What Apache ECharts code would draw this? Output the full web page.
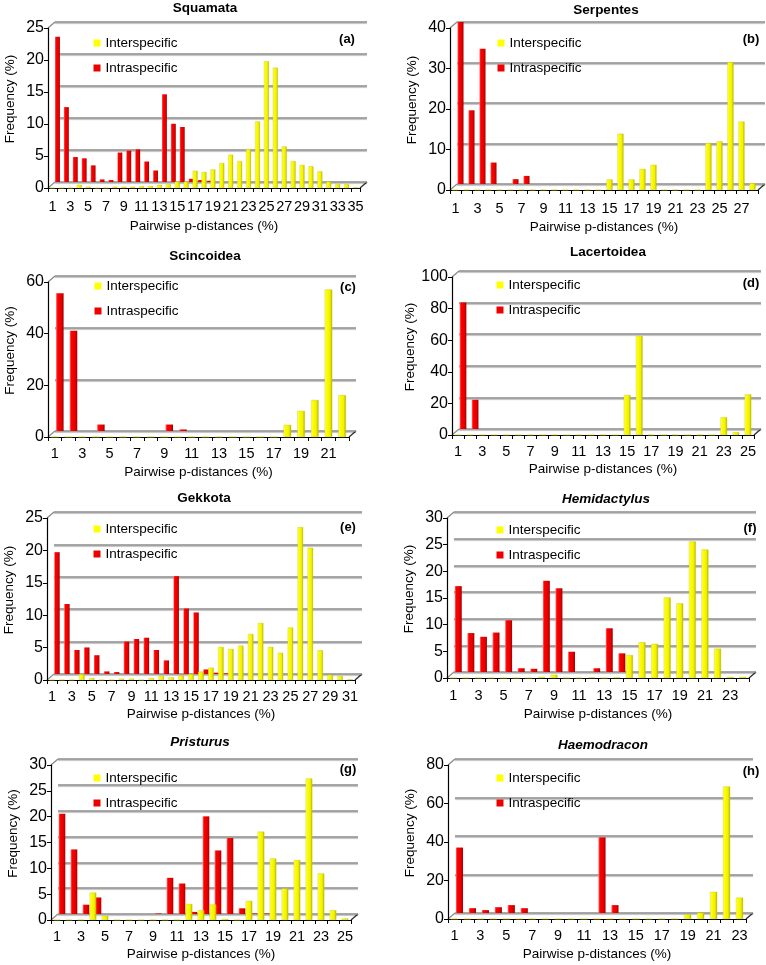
<!DOCTYPE html>
<html><head><meta charset="utf-8">
<script src="https://cdn.jsdelivr.net/npm/echarts@6/dist/echarts.min.js"></script>
<style>html,body{margin:0;padding:0;background:#fff}#c{width:766px;height:965px}</style>
</head><body><div id="c"></div>
<script>
// ---------- data ----------
const catsA = [1,2,3,4,5,6,7,8,9,10,11,12,13,14,15,16,17,18,19,20,21,22,23,24,25,26,27,28,29,30,31,32,33,34,35];
const interA = [0,0,0,0.5,0.2,0,0,0.2,0.2,0.2, 0.3,0.3,0.5,0.6,1.0,1.0,2.7,2.5,2.9,3.9, 5.2,4.2,6.1,10.4,19.8,18.8,6.5,4.2,3.6,3.4, 2.6,1.0,0.6,0.6,0.1];
const intraA = [22.7,11.7,3.9,3.7,2.6,0.4,0.3,4.6,4.9,5.1, 3.2,1.8,13.7,9.1,8.6,0.5,0.3,0.2,0,0, 0,0,0,0,0,0,0,0,0,0, 0,0,0,0,0];

const catsB = [1,2,3,4,5,6,7,8,9,10,11,12,13,14,15,16,17,18,19,20,21,22,23,24,25,26,27,28];
const interB = [0,0,0,0,0,0,0,0,0,0, 0,0,0,0,2.6,13.9,2.6,5.2,6.2,0, 0,0,0,11.6,12.0,31.6,16.9,1.7];
const intraB = [40.1,18.2,33.4,5.3,0,1.2,2.0,0,0,0, 0,0,0,0,0,0,0,0,0,0, 0,0,0,0,0,0,0,0];

const catsC = [1,2,3,4,5,6,7,8,9,10,11,12,13,14,15,16,17,18,19,20,21,22];
const interC = [0,0,0,0,0,0,0,0,0,0, 0,0,0,0,0,0,0,4.7,10.1,14.3, 57.1,16.2];
const intraC = [53.3,38.8,0,2.5,0,0,0,0,2.5,0.6, 0,0,0,0,0,0,0,0,0,0, 0,0];

const catsD = [1,2,3,4,5,6,7,8,9,10,11,12,13,14,15,16,17,18,19,20,21,22,23,24,25];
const interD = [0,0,0,0,0,0,0,0,0,0, 0,0,0,0,25.3,62.7,0,0,0,0, 0,0,11.2,1.7,25.7];
const intraD = [80.1,18.5,0,0,0,0,0,0,0,0, 0,0,0,0,0,0,0,0,0,0, 0,0,0,0,0];

const catsE = [1,2,3,4,5,6,7,8,9,10,11,12,13,14,15,16,17,18,19,20,21,22,23,24,25,26,27,28,29,30,31];
const interE = [0,0,0,0.9,0.3,0,0,0.2,0.2,0, 0.3,0.6,0.4,0.7,0.9,1.3,1.9,5.1,4.8,5.3, 7.1,8.8,5.1,4.2,8.1,23.6,20.4,4.6,0.8,0.6, 0.1];
const intraE = [18.8,10.8,3.7,4.1,2.9,0.4,0.3,5.0,5.4,5.6, 3.7,2.1,15.1,10.1,9.5,0.7,0.2,0.1,0,0, 0,0,0,0,0,0,0,0,0,0, 0];

const catsF = [1,2,3,4,5,6,7,8,9,10,11,12,13,14,15,16,17,18,19,20,21,22,23,24];
const interF = [0,0,0,0,0,0,0,0.2,0.6,0, 0,0.1,0,0.1,4.3,6.7,6.4,15.1,14.0,25.6, 24.1,5.5,0.2,0.2];
const intraF = [16.1,7.3,6.6,7.4,9.7,0.7,0.6,17.1,15.7,3.8, 0,0.7,8.2,3.5,0,0,0,0,0,0, 0,0,0,0];

const catsG = [1,2,3,4,5,6,7,8,9,10,11,12,13,14,15,16,17,18,19,20,21,22,23,24,25];
const interG = [0,0,0,5.3,0.8,0,0,0,0,0, 0,3.1,1.9,3.0,0.2,0,3.7,17.1,11.9,6.1, 11.6,27.4,9.0,1.9,0.3];
const intraG = [19.4,12.5,1.8,3.2,0,0,0,0,0.1,7.0, 5.9,0.4,18.9,12.3,14.7,1.1,0.1,0.1,0,0, 0,0,0,0,0];

const catsH = [1,2,3,4,5,6,7,8,9,10,11,12,13,14,15,16,17,18,19,20,21,22,23];
const interH = [0,0,0,0,0,0,0,0,0,0, 0,0,0,0,0,0,0,0,2.3,3.3, 14.1,68.8,11.1];
const intraH = [34,2.5,1.5,3.0,4.1,2.5,0,0,0,0, 0,39.3,4.1,0,0,0,0,0,0,0, 0,0,0];

const yMaxes = {a:25,b:40,c:60,d:100,e:25,f:30,g:30,h:80};
const yIntervals = {a:5,b:10,c:20,d:20,e:5,f:5,g:5,h:20};
const titles = {a:'Squamata',b:'Serpentes',c:'Scincoidea',d:'Lacertoidea',e:'Gekkota',f:'Hemidactylus',g:'Pristurus',h:'Haemodracon'};
const xName = 'Pairwise p-distances (%)';
const yName = 'Frequency (%)';
const seriesNames = ['Interspecific','Intraspecific'];

// ---------- layout (positions / styles) ----------
const FONT = '"Liberation Sans", Arial, Helvetica, sans-serif';
const panels = [
 {k:'a', cats:catsA, inter:interA, intra:intraA, italic:false, left:48,  top:28,  width:312, y0:188, titleX:205, titleY:8,   lg:[88.5,30],  tag:[347,39],  xGap:31, lblM:11},
 {k:'b', cats:catsB, inter:interB, intra:intraB, italic:false, left:450, top:28,  width:308, y0:190, titleX:606, titleY:10,  lg:[492.5,30], tag:[751,39],  xGap:30, lblM:11},
 {k:'c', cats:catsC, inter:interC, intra:intraC, italic:false, left:48,  top:282, width:301, y0:437, titleX:205, titleY:256, lg:[89.5,273], tag:[348,287], xGap:28, lblM:9},
 {k:'d', cats:catsD, inter:interD, intra:intraD, italic:false, left:452, top:277, width:302, y0:435, titleX:608, titleY:252, lg:[491.5,272],tag:[751,283], xGap:27, lblM:9},
 {k:'e', cats:catsE, inter:interE, intra:intraE, italic:false, left:47,  top:518, width:308, y0:680, titleX:204, titleY:498, lg:[88.5,516], tag:[348,527], xGap:27, lblM:9},
 {k:'f', cats:catsF, inter:interF, intra:intraF, italic:true,  left:447, top:518, width:302, y0:678, titleX:606, titleY:499, lg:[491.5,517],tag:[750,528], xGap:29, lblM:10},
 {k:'g', cats:catsG, inter:interG, intra:intraG, italic:true,  left:51,  top:765, width:300, y0:920, titleX:200, titleY:742, lg:[88.5,765], tag:[348,769], xGap:27, lblM:9},
 {k:'h', cats:catsH, inter:interH, intra:intraH, italic:true,  left:448, top:765, width:298, y0:919, titleX:603, titleY:745, lg:[491.5,765],tag:[751,771], xGap:28, lblM:9}
];
const DXB = 5, DXW = 7, DY = 6;

const redGrad = {type:'linear',x:0,y:0,x2:1,y2:0,colorStops:[
  {offset:0,color:'#ff7070'},{offset:0.22,color:'#ff0000'},{offset:0.7,color:'#e40000'},{offset:1,color:'#a00000'}]};
const yelGrad = {type:'linear',x:0,y:0,x2:1,y2:0,colorStops:[
  {offset:0,color:'#ffffa8'},{offset:0.22,color:'#ffff00'},{offset:0.7,color:'#f0f000'},{offset:1,color:'#b0b000'}]};

const grid = [], xAxis = [], yAxis = [], series = [], legend = [], gfx = [];

panels.forEach((p, i) => {
  const h = p.y0 - p.top;
  const ymax = yMaxes[p.k], yint = yIntervals[p.k];
  const gw = 3*i, gb = 3*i+1, gf = 3*i+2;
  const common = {containLabel:false, outerBoundsMode:'none'};
  grid.push(Object.assign({left:p.left+DXW, top:p.top-DY, width:p.width, height:h}, common));
  grid.push(Object.assign({left:p.left+DXB, top:p.top-DY, width:p.width, height:h}, common));
  grid.push(Object.assign({left:p.left, top:p.top, width:p.width, height:h}, common));

  // wall axes (grid lines only)
  xAxis.push({gridIndex:gw, type:'category', data:p.cats, show:false});
  yAxis.push({gridIndex:gw, type:'value', min:0, max:ymax, interval:yint,
    axisLine:{show:false}, axisTick:{show:false}, axisLabel:{show:false},
    splitLine:{show:true, lineStyle:{color:'#8c8c8c', width:1.6, shadowColor:'rgba(0,0,0,0.25)', shadowBlur:1, shadowOffsetY:1.2}}});
  // back row axes (hidden)
  xAxis.push({gridIndex:gb, type:'category', data:p.cats, show:false});
  yAxis.push({gridIndex:gb, type:'value', min:0, max:ymax, interval:yint, show:false, splitLine:{show:false}});
  // front axes (visible)
  xAxis.push({gridIndex:gf, type:'category', data:p.cats,
    axisLine:{show:true, lineStyle:{color:'#000', width:1.2}},
    axisTick:{show:true, interval:0, length:4, lineStyle:{color:'#000', width:1}},
    axisLabel:{interval:1, fontSize:14.5, color:'#000', fontFamily:FONT, margin:p.lblM},
    splitLine:{show:false},
    name:xName, nameLocation:'middle', nameGap:p.xGap,
    nameTextStyle:{fontSize:13.5, color:'#000', fontFamily:FONT}});
  yAxis.push({gridIndex:gf, type:'value', min:0, max:ymax, interval:yint,
    axisLine:{show:true, lineStyle:{color:'#000', width:1.2}},
    axisTick:{show:true, length:4, lineStyle:{color:'#000', width:1}},
    axisLabel:{fontSize:16, color:'#000', fontFamily:FONT, margin:4},
    splitLine:{show:false},
    name:yName, nameLocation:'middle', nameGap:31,
    nameTextStyle:{fontSize:13.5, color:'#000', fontFamily:FONT, padding:[0,0,0,18]}});

  series.push({type:'bar', name:seriesNames[1], xAxisIndex:gb, yAxisIndex:gb, data:p.intra,
    barWidth:'55%', itemStyle:{color:redGrad}, z:2, silent:true});
  series.push({type:'bar', name:seriesNames[0], xAxisIndex:gf, yAxisIndex:gf, data:p.inter,
    barWidth:'55%', itemStyle:{color:yelGrad, borderColor:'#c8c800', borderWidth:0.4}, z:3, silent:true});

  legend.push({orient:'vertical', left:p.lg[0], top:p.lg[1], itemWidth:7, itemHeight:7, itemGap:9,
    selectedMode:false, icon:'rect',
    textStyle:{fontSize:13.5, color:'#000', fontFamily:FONT, lineHeight:16},
    data:[{name:seriesNames[0], itemStyle:{color:'#ffff00', borderWidth:0}},
          {name:seriesNames[1], itemStyle:{color:'#ee0000', borderWidth:0}}]});

  // titles and tags
  gfx.push({type:'text', x:p.titleX, y:p.titleY, silent:true,
    style:{text:titles[p.k], font:(p.italic?'italic ':'')+'bold 13.5px '+FONT, fill:'#000',
      align:'center', verticalAlign:'middle', textAlign:'center', textVerticalAlign:'middle'}});
  gfx.push({type:'text', x:p.tag[0], y:p.tag[1], silent:true,
    style:{text:'('+p.k+')', font:'bold 13px '+FONT, fill:'#000',
      align:'center', verticalAlign:'middle', textAlign:'center', textVerticalAlign:'middle'}});
  // 3-D box edges derived from the grid geometry
  const R = p.left + p.width;
  gfx.push({type:'line', silent:true, shape:{x1:p.left, y1:p.top, x2:p.left+DXW, y2:p.top-DY}, style:{stroke:'#8c8c8c', lineWidth:1.4}});
  gfx.push({type:'line', silent:true, shape:{x1:p.left, y1:p.y0, x2:p.left+DXW, y2:p.y0-DY}, style:{stroke:'#8c8c8c', lineWidth:1.2}});
  gfx.push({type:'line', silent:true, shape:{x1:R, y1:p.y0, x2:R+DXW, y2:p.y0-DY}, style:{stroke:'#333', lineWidth:1.4}});
});

const chart = echarts.init(document.getElementById('c'), null, {renderer:'canvas', width:766, height:965});
chart.setOption({
  animation:false,
  backgroundColor:'#fff',
  textStyle:{fontFamily:FONT},
  grid, xAxis, yAxis, series, legend,
  graphic:{elements:gfx}
});
</script></body></html>
